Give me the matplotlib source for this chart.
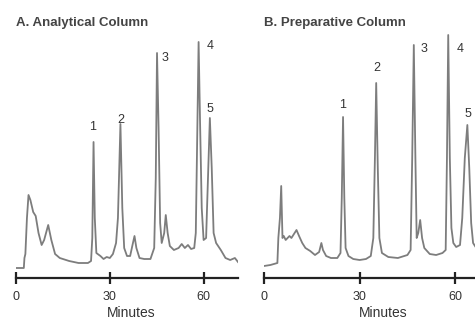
import matplotlib
matplotlib.use("Agg")
import matplotlib.pyplot as plt

# Panel A: analytical column (minutes, detector response)
A_TIME = [0, 2.5, 2.7, 3.0, 3.5, 4.0, 4.6, 5.5, 6.3, 7.2, 8.2, 9.0, 10.3, 11.3, 12.5, 14, 17, 20, 23,
          24.0, 24.4, 24.8, 25.2, 25.7, 27, 28, 29, 30, 31, 32, 32.6, 33.4, 34, 34.6, 35.5, 36.5, 37.4,
          37.9, 38.5, 39.5, 41, 43, 44.2, 44.7, 45.1, 45.6, 46.1, 46.6, 47.4, 47.9, 48.5, 49.2, 50.5,
          52, 53, 54, 55, 56, 57, 57.5, 58.0, 58.4, 58.9, 59.4, 60.0, 60.8, 61.4, 62.0, 62.6, 63.2,
          64.0, 65.5, 67.0, 68.5, 70, 71]
A_SIGNAL = [10, 10, 20, 24, 60, 83, 78, 66, 62, 45, 33, 38, 53, 38, 24, 20, 17, 15, 15,
            17, 40, 136, 60, 25, 22, 19, 21, 20, 24, 35, 60, 154, 70, 30, 22, 22, 35,
            42, 30, 20, 19, 19, 30, 100, 225, 150, 55, 35, 45, 63, 45, 32, 28,
            30, 34, 30, 33, 29, 30, 45, 150, 236, 150, 70, 38, 40, 100, 160, 110, 45,
            35, 28, 20, 18, 20, 16]

# Panel B: preparative column
B_TIME = [0, 2, 4.2, 4.5, 5.0, 5.4, 5.8, 6.2, 6.8, 7.4, 8.0, 8.6, 9.4, 10.2, 11, 12, 13, 14.5, 16,
          17.3, 18.0, 18.5, 19.5, 21, 23, 24.0, 24.4, 24.8, 25.2, 25.6, 26.5, 28, 30, 32, 33.5, 34.3,
          34.8, 35.2, 35.7, 36.2, 37, 39, 42, 44, 45, 46.0, 46.5, 47.0, 47.5, 47.9, 48.4, 49.0, 49.6,
          50.3, 52, 54, 56, 57.0, 57.4, 57.8, 58.3, 58.8, 59.4, 60.3, 61.5, 62.2, 63.0, 63.8, 64.4,
          65.0, 65.6, 67]
B_SIGNAL = [12, 13, 15, 40, 60, 92, 40, 42, 38, 40, 42, 40, 44, 48, 42, 35, 30, 27, 23,
            26, 35, 28, 22, 20, 20, 25, 80, 161, 80, 30, 22, 19, 18, 19, 22, 40,
            120, 195, 110, 40, 25, 21, 20, 22, 23, 28, 120, 233, 120, 40, 45, 58, 40,
            30, 24, 23, 25, 28, 120, 243, 120, 50, 35, 31, 33, 60, 120, 153, 110,
            55, 35, 28]

A_PEAK_LABELS = ["1", "2", "3", "4", "5"]
A_LABEL_T = [24.6, 33.6, 47.7, 62.0, 62.0]
A_LABEL_Y = [151, 158, 220, 232, 169]
B_PEAK_LABELS = ["1", "2", "3", "4", "5"]
B_LABEL_T = [24.8, 35.4, 50.2, 61.4, 63.9]
B_LABEL_Y = [173, 210, 229, 229, 164]

TICKS = [0, 30, 60]

W, H = 475, 320
TEXT = "#333333"
TRACE = "#7d7d7d"

plt.rcParams["font.family"] = ["Liberation Sans", "DejaVu Sans"]

fig = plt.figure(figsize=(W / 100, H / 100), dpi=100)
fig.patch.set_facecolor("white")


def panel(left_px, width_px, xmax, t, y, lab, lab_t, lab_y, title):
    ax = fig.add_axes([left_px / W, 42 / H, width_px / W, 248 / H])
    ax.plot(t, y, color=TRACE, linewidth=1.3, solid_joinstyle="round")
    ax.set_xlim(0, xmax)
    ax.set_ylim(0, 248)
    for s in ("top", "left", "right"):
        ax.spines[s].set_visible(False)
    ax.spines["bottom"].set_color("#222222")
    ax.spines["bottom"].set_linewidth(1.6)
    ax.set_yticks([])
    ax.set_xticks(TICKS)
    ax.tick_params(axis="x", direction="inout", length=9, width=1.6, color="#222222",
                   labelsize=9, labelcolor=TEXT, pad=5)
    ax.patch.set_alpha(0)
    for s, tt, yy in zip(lab, lab_t, lab_y):
        ax.text(tt, yy, s, ha="center", va="center", fontsize=9, color=TEXT)
    fig.text(left_px / W, 1 - 23 / H, title, ha="left", va="center", fontsize=9.5,
             fontweight="bold", color="#444444")
    return ax


panel(16, 222, 71.0, A_TIME, A_SIGNAL, A_PEAK_LABELS, A_LABEL_T, A_LABEL_Y, "A. Analytical Column")
panel(264, 211, 66.2, B_TIME, B_SIGNAL, B_PEAK_LABELS, B_LABEL_T, B_LABEL_Y, "B. Preparative Column")

fig.text(131 / W, 1 - 313 / H, "Minutes", ha="center", va="center", fontsize=10, color=TEXT)
fig.text(383 / W, 1 - 313 / H, "Minutes", ha="center", va="center", fontsize=10, color=TEXT)

fig.savefig("out.png", dpi=100, facecolor="white")
